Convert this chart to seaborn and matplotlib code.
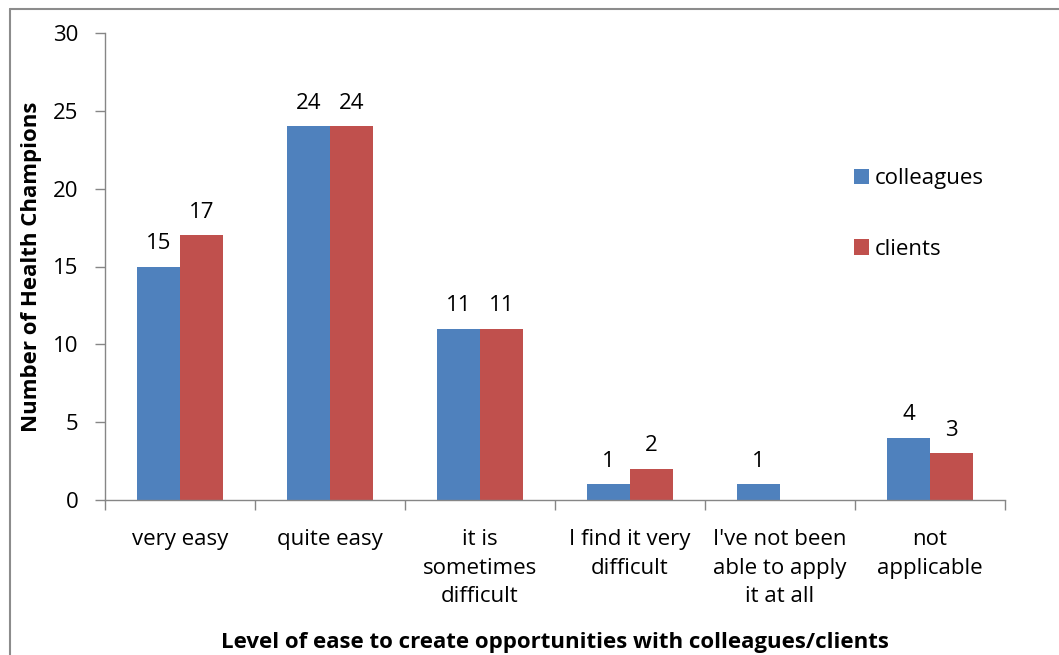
import matplotlib
matplotlib.use("Agg")
import matplotlib.pyplot as plt
from matplotlib.lines import Line2D
from matplotlib.ticker import FixedLocator, NullFormatter
import seaborn as sns
import pandas as pd
import numpy as np

categories = ["very easy", "quite easy", "it is\nsometimes\ndifficult",
              "I find it very\ndifficult", "I've not been\nable to apply\nit at all",
              "not\napplicable"]
colleagues = [15, 24, 11, 1, 1, 4]
clients = [17, 24, 11, 2, 0, 3]
series_names = ["colleagues", "clients"]
yticks = [0, 5, 10, 15, 20, 25, 30]

df = pd.DataFrame({
    "category": categories * 2,
    "value": colleagues + clients,
    "series": [series_names[0]] * len(categories) + [series_names[1]] * len(categories),
})

sns.set_theme(style="white")
plt.rcParams['font.family'] = ['Open Sans', 'DejaVu Sans']
plt.rcParams['text.color'] = 'black'
plt.rcParams['axes.labelcolor'] = 'black'
plt.rcParams['xtick.color'] = 'black'
plt.rcParams['ytick.color'] = 'black'

FS = 16

W, H = 1059, 655
fig = plt.figure(figsize=(W / 100, H / 100), dpi=100)
ax = fig.add_axes([105 / W, 1 - 500 / H, 900 / W, 467 / H])

palette = {"colleagues": "#4F81BD", "clients": "#C0504D"}
sns.barplot(data=df, x="category", y="value", hue="series", order=categories,
            hue_order=series_names, palette=palette, width=0.57, saturation=1,
            linewidth=0, ax=ax, legend=True)

for cont in ax.containers:
    labels = [f"{v:.0f}" if v > 0 else "" for v in cont.datavalues]
    ax.bar_label(cont, labels=labels, padding=9, fontsize=FS, color="black")

ax.set_ylim(0, 30)
ax.set_xlim(-0.5, len(categories) - 0.5)
ax.set_yticks(yticks)
ax.tick_params(axis="y", which="major", direction="out", length=7, width=1,
               color="#868686", labelcolor="black", labelsize=FS, pad=12, left=True)
ax.tick_params(axis="x", which="major", length=0, labelsize=FS, pad=21,
               labelcolor="black")
ax.xaxis.set_minor_locator(FixedLocator(np.arange(-0.5, len(categories), 1.0)))
ax.xaxis.set_minor_formatter(NullFormatter())
ax.tick_params(axis="x", which="minor", direction="out", length=7, width=1,
               color="#868686", bottom=True)
for lbl in ax.get_xticklabels():
    lbl.set_linespacing(1.47)

for s in ["top", "right"]:
    ax.spines[s].set_visible(False)
for s in ["left", "bottom"]:
    ax.spines[s].set_color("#868686")
    ax.spines[s].set_linewidth(1)

ax.set_xlabel("Level of ease to create opportunities with colleagues/clients",
              fontsize=FS, fontweight="bold")
ax.set_ylabel("Number of Health Champions", fontsize=FS, fontweight="bold")
ax.xaxis.set_label_coords(0.5, -0.283)
ax.yaxis.set_label_coords(-0.07, 0.5)

leg = ax.legend(loc="upper left", bbox_to_anchor=(834 / W, 1 - 148 / H),
                bbox_transform=fig.transFigure, frameon=False, fontsize=FS,
                handlelength=0.68, handleheight=0.68, handletextpad=0.25,
                labelspacing=2.24)

# outer chart border (left and top visible)
fig.add_artist(Line2D([10 / W, 10 / W], [0, 1 - 9 / H], transform=fig.transFigure,
                      color="#8c8c8c", linewidth=1.5))
fig.add_artist(Line2D([10 / W, 1], [1 - 9 / H, 1 - 9 / H], transform=fig.transFigure,
                      color="#8c8c8c", linewidth=1.5))

fig.savefig("out.png", dpi=100)
